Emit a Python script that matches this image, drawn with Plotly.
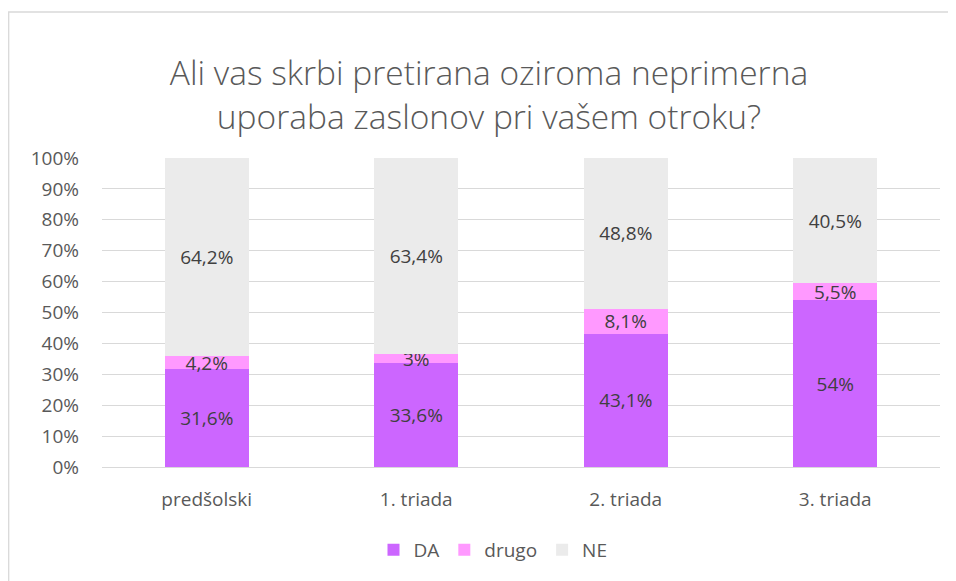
import plotly.graph_objects as go

categories = ["predšolski", "1. triada", "2. triada", "3. triada"]
da = [31.6, 33.6, 43.1, 54]
drugo = [4.2, 3, 8.1, 5.5]
ne = [64.2, 63.4, 48.8, 40.5]
y_ticks = list(range(0, 101, 10))
y_tick_labels = [f"{t}%" for t in y_ticks]

def fmt(v):
    s = f"{v:.1f}".rstrip("0").rstrip(".")
    return s.replace(".", ",") + "%"

FONT = "Open Sans"
series = [("DA", da, "#CC66FF"), ("drugo", drugo, "#FF99FF"), ("NE", ne, "#EBEBEB")]

fig = go.Figure()
for name, vals, col in series:
    fig.add_trace(go.Bar(
        x=categories, y=vals, name=name, marker=dict(color=col, line=dict(width=0)),
        text=[fmt(v) for v in vals], textposition="inside", insidetextanchor="middle",
        constraintext="none", cliponaxis=False,
        textfont=dict(family=FONT, size=19, color="#404040"),
        hoverinfo="skip",
    ))

# page body has an 8px margin: work in reference coordinates, shift by OFF
OFF = 8
W, H = 956 - OFF, 581 - OFF
pl, pr, pt, pb = 102 - OFF, 940 - OFF, 158 - OFF, 467 - OFF
pw, ph = pr - pl, pb - pt

fig.update_layout(
    width=W, height=H, barmode="stack", bargap=0.6,
    margin=dict(l=pl, r=W - pr, t=pt, b=H - pb, autoexpand=False),
    paper_bgcolor="white", plot_bgcolor="white",
    font=dict(family=FONT, color="#595959"),
    title=dict(text="Ali vas skrbi pretirana oziroma neprimerna<br>uporaba zaslonov pri vašem otroku?",
               x=(489 - OFF) / W, xanchor="center", xref="container",
               y=1 - (85 - OFF) / H, yanchor="middle", yref="container",
               font=dict(family=FONT, size=33.5, color="#595959", weight=300)),
    yaxis=dict(range=[0, 100], tickvals=y_ticks, ticktext=y_tick_labels,
               showgrid=True, gridcolor="#D9D9D9", gridwidth=1.3, zeroline=False,
               showline=False, ticks="", ticklabelstandoff=22,
               tickfont=dict(family=FONT, size=19, color="#595959")),
    xaxis=dict(showline=True, linecolor="#D9D9D9", linewidth=1.3, ticks="",
               ticklabelstandoff=15,
               tickfont=dict(family=FONT, size=19, color="#595959")),
    legend=dict(orientation="h", x=(493 - OFF) / W, xref="container", xanchor="center",
                y=1 - (550 - OFF) / H, yref="container", yanchor="middle",
                font=dict(family=FONT, size=19, color="#595959"),
                itemwidth=30, traceorder="normal"),
    showlegend=True,
)
fig.add_shape(type="rect", xref="paper", yref="paper",
              x0=(0.7 - pl) / pw, x1=(951 - OFF - pl) / pw,
              y0=(pb - 700) / ph, y1=(pb - (12 - OFF)) / ph,
              line=dict(color="#D9D9D9", width=1.3), fillcolor="rgba(0,0,0,0)", layer="below")
fig.write_html("out.html")
